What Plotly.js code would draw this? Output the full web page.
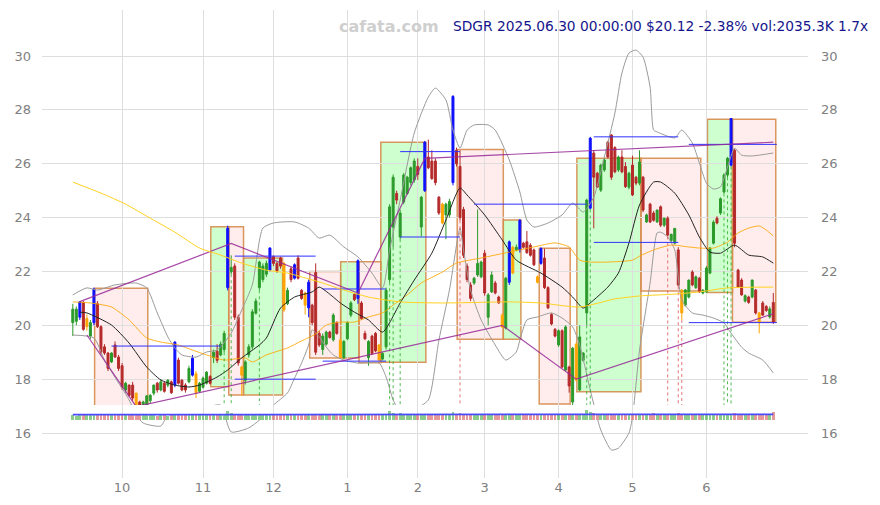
<!DOCTYPE html>
<html><head><meta charset="utf-8">
<script src="https://cdn.plot.ly/plotly-3.0.1.min.js"></script>
<style>html,body{margin:0;padding:0;background:#fff}#chart{width:880px;height:505px}</style>
</head><body><div id="chart"></div>
<script>
// ---- month ticks (trading-day index of first session of each month) ----
const monthTickIdx = [14, 37, 57, 78, 98, 117, 138, 159, 180];
const monthTickText = ['10', '11', '12', '1', '2', '3', '4', '5', '6'];
const priceTicks = [16, 18, 20, 22, 24, 26, 28, 30];

// ---- daily OHLC, SDGR 2024-09-11 .. 2025-06-30 ----
const openP = [
20.10,20.15,20.30,20.85,19.95,19.60,20.10,20.80,19.95,19.20,
18.97,18.64,19.27,18.82,18.50,17.60,17.78,17.78,17.48,17.15,
16.97,17.04,17.20,17.48,17.85,17.60,17.85,17.78,17.90,17.78,
18.71,17.96,17.78,17.90,18.15,18.20,17.55,17.70,17.85,18.10,
18.80,19.04,18.90,19.10,21.40,21.98,22.20,20.30,18.45,17.96,
18.90,19.20,20.45,21.40,21.70,21.90,22.05,22.55,22.30,22.50,
22.30,20.80,22.10,21.75,22.50,21.30,21.20,20.65,20.75,21.96,
19.70,19.10,19.30,19.75,19.46,20.10,19.45,18.80,19.50,20.38,
21.15,21.00,20.83,19.70,18.80,19.60,19.70,19.27,18.75,19.20,
21.70,23.65,24.90,23.28,24.58,24.90,25.30,25.40,25.90,23.65,
25.00,26.25,26.10,26.10,24.76,24.50,24.10,24.10,25.30,26.50,
25.90,24.30,22.20,21.50,21.57,21.87,21.80,22.68,20.30,21.24,
21.57,21.05,20.38,19.90,21.60,22.90,22.80,22.80,23.05,23.10,
22.97,22.80,21.80,22.30,22.50,21.40,20.40,19.85,19.27,19.80,
18.34,18.45,17.15,19.30,17.60,18.70,20.46,24.35,26.40,25.65,
25.02,25.77,26.80,27.07,26.60,25.77,26.25,25.90,25.13,25.95,
25.50,25.28,25.50,23.84,24.50,24.17,23.84,24.40,23.72,23.98,
23.15,23.05,22.80,21.30,20.75,21.05,21.98,21.40,21.75,21.20,
21.24,21.94,23.05,23.98,24.17,24.95,25.58,25.95,26.50,22.05,
21.68,20.90,21.05,21.05,21.31,20.46,20.83,20.70,20.31,20.85];
const highP = [
20.80,20.70,20.90,20.90,20.40,20.20,21.40,20.90,20.00,19.30,
19.00,19.00,19.40,18.90,18.60,17.90,17.80,17.90,17.50,17.20,
17.20,17.40,17.45,17.80,17.90,18.00,17.90,18.00,17.95,19.40,
18.80,18.00,17.85,18.50,18.90,18.30,17.90,18.10,18.30,18.15,
19.10,19.30,19.40,19.80,23.70,22.60,22.30,20.40,18.50,18.70,
19.30,20.60,21.00,22.40,22.30,22.40,22.90,22.60,22.35,22.55,
22.35,21.40,22.20,22.30,22.60,21.35,21.25,21.70,20.80,22.30,
19.80,19.70,19.80,19.80,20.45,20.15,19.50,19.45,20.15,20.90,
21.20,22.45,20.90,19.80,19.45,19.65,19.75,19.30,19.00,21.40,
24.50,25.60,25.00,24.30,25.65,25.55,25.90,26.20,26.20,24.80,
26.85,26.90,26.50,26.20,24.80,24.55,24.55,24.70,28.55,26.60,
26.50,24.40,22.30,21.60,21.80,24.30,22.40,22.80,21.20,22.00,
21.65,21.10,20.45,21.80,23.15,22.95,23.00,23.95,23.10,23.50,
23.05,22.85,21.85,22.90,22.85,21.45,20.45,19.90,19.85,19.85,
20.00,18.50,19.20,19.35,20.00,19.00,24.70,27.00,26.50,25.70,
26.00,26.20,26.85,27.10,26.65,26.30,26.50,26.06,25.70,26.30,
25.55,26.50,25.55,24.15,24.55,24.25,24.30,24.45,24.00,24.05,
23.40,23.60,22.90,21.35,21.35,21.70,22.05,21.85,21.80,21.35,
22.20,22.90,23.90,24.05,24.75,25.65,26.25,27.70,26.55,22.10,
21.75,21.15,21.10,21.70,21.35,20.50,20.90,20.75,20.70,21.20];
const lowP = [
19.60,20.00,20.20,19.80,19.80,19.50,20.00,19.90,18.90,18.90,
18.30,18.60,18.80,18.30,17.60,17.50,17.35,17.20,16.90,16.90,
16.60,16.95,17.10,17.40,17.50,17.55,17.50,17.70,17.45,17.70,
17.80,17.55,17.50,17.85,18.10,17.30,17.50,17.65,17.80,17.80,
18.60,18.60,18.85,19.00,21.30,21.90,20.20,18.50,17.40,17.80,
18.80,19.10,20.40,21.30,21.60,21.80,22.00,22.20,21.95,22.10,
20.50,20.75,21.60,21.70,21.70,20.95,20.40,20.30,20.00,18.90,
19.20,18.90,19.25,19.50,19.40,19.65,18.75,18.75,19.45,20.30,
20.90,20.80,20.20,19.45,18.50,18.90,19.00,18.65,18.70,19.10,
21.60,22.90,24.50,23.20,24.50,24.85,25.20,25.30,25.40,23.30,
24.95,25.80,25.40,25.20,24.10,23.75,23.20,24.00,25.20,25.90,
23.90,22.50,21.60,20.90,21.50,21.80,21.75,21.10,20.00,21.20,
21.15,20.80,19.90,19.85,21.50,21.90,22.75,22.70,22.85,22.65,
22.55,22.20,21.55,22.25,21.35,20.60,20.00,19.55,19.20,18.40,
18.30,17.50,16.90,17.90,17.55,18.65,20.00,24.30,23.60,25.10,
24.95,25.70,26.20,25.40,25.65,25.70,25.65,25.10,25.05,24.80,
25.20,25.20,24.20,23.80,23.80,23.85,23.80,23.65,23.65,23.30,
23.10,23.00,21.45,20.20,20.70,21.00,21.45,21.35,21.20,21.15,
21.20,21.90,23.00,23.75,24.10,24.90,25.50,25.90,22.90,21.40,
21.10,20.85,20.80,21.00,20.40,19.70,20.35,20.50,20.25,20.05];
const closeP = [
20.60,20.60,20.87,19.85,20.25,20.10,21.35,19.95,19.00,18.97,
18.40,18.97,18.82,18.40,17.70,17.85,17.40,17.30,16.97,16.97,
17.15,17.38,17.40,17.78,17.60,17.90,17.55,17.96,17.50,19.38,
17.85,17.60,17.60,18.40,18.78,17.50,17.85,18.04,18.26,17.85,
19.00,18.70,19.30,19.70,23.60,22.15,20.30,18.60,18.15,18.64,
19.20,20.50,20.90,22.35,22.20,22.30,22.87,22.30,22.00,22.20,
20.57,21.30,21.70,22.25,21.75,21.00,20.75,21.60,20.10,19.00,
19.27,19.60,19.75,19.55,20.38,19.70,18.80,19.40,20.10,20.83,
20.95,22.40,20.25,19.50,19.40,18.95,19.05,18.71,18.95,21.30,
24.40,25.50,24.65,24.17,25.58,25.50,25.85,26.10,25.60,24.76,
26.80,25.85,25.45,25.30,24.17,23.80,24.50,24.60,28.50,26.00,
24.00,22.60,21.70,21.00,21.75,22.30,22.35,21.20,21.13,21.87,
21.20,20.83,19.94,21.75,23.10,21.94,22.90,23.90,22.90,22.70,
22.60,22.25,21.60,22.85,21.40,20.65,20.05,19.60,19.80,18.45,
19.94,17.75,19.15,17.97,19.57,18.97,24.65,26.95,25.50,25.13,
25.95,26.14,26.25,25.50,25.70,26.25,25.70,25.15,25.65,24.84,
25.28,26.06,24.28,24.10,23.84,23.90,24.28,23.72,23.98,23.35,
23.38,23.60,21.50,20.46,21.31,21.68,21.50,21.80,21.24,21.30,
22.13,22.87,23.83,23.80,24.70,25.58,26.20,27.68,23.05,21.42,
21.13,21.10,20.85,21.68,20.46,20.10,20.38,20.55,20.61,20.12];
// volume, thousands of shares
const volK = [
1150,1080,1300,1250,1120,1180,1420,1260,1310,1190,1230,1100,1160,1210,1280,1090,1140,1170,1350,1120,
1260,1150,1090,1130,1080,1170,1110,1060,1120,1240,1180,1100,1090,1150,1210,1270,1130,1120,1160,1090,
1140,1180,1130,1360,2100,1650,1500,1420,1380,1290,1240,1310,1270,1450,1230,1200,1250,1190,1160,1210,
1320,1180,1150,1200,1170,1140,1230,1250,1190,1380,1220,1140,1130,1100,1160,1120,1210,1130,1150,1170,
1120,1240,1190,1160,1130,1170,1150,1200,1110,1380,2200,1700,1450,1600,1350,1280,1260,1240,1300,1220,
1420,1310,1280,1300,1250,1230,1190,1170,1900,1500,1650,1480,1360,1310,1220,1280,1200,1330,1250,1210,
1190,1230,1240,1300,1350,1260,1200,1320,1180,1200,1210,1220,1180,1230,1240,1260,1230,1210,1250,1280,
1300,1330,1420,1380,1340,1300,2300,2000,1600,1450,1380,1360,1300,1340,1390,1320,1300,1280,1260,1330,
1290,1270,1310,1240,1260,1700,1280,1250,1230,1420,1300,1290,1750,1500,1350,1280,1240,1220,1210,1200,
1230,1290,1310,1260,1300,1380,1420,1500,1750,1400,1330,1280,1240,1260,1300,1350,1250,1230,1220,2035];

// highlighted candles
const blueIdx = [2,6,29,34,44,56,63,67,81,100,108,124,127,133,147,187];
const orangeIdx = [4,18,35,48,60,66,76,87,105,122,125,132,143,173,195];
// signal days (dotted verticals)
const sigUpIdx = [43,45,53,90,91,93,146,147,185,186,187];
const sigDnIdx = [110,169,172,173];

// ---- indicator lines ----
const smaFastX = [2,4,11,16,21,25,29,33,36,41,44,48,53,55,59,63,68,70,74,76,80,84,88,93,97,102,106,110,112,117,122,126,133,139,142,145,147,152,155,158,161,165,167,171,175,178,181,184,188,192,196,199];
const smaFastY = [20.49,20.46,20.01,19.34,18.45,17.97,17.78,17.71,17.78,18.08,18.34,18.79,19.27,19.53,20.64,21.05,21.24,21.42,21.05,20.83,20.49,20.20,19.75,20.83,21.68,22.68,23.91,25.10,24.84,24.10,23.17,22.42,21.94,21.42,21.05,20.64,20.83,21.42,21.94,23.06,24.47,25.32,25.32,24.91,24.10,23.28,22.72,22.68,22.98,22.61,22.54,22.31];
const smaMidX = [0,5,11,16,21,25,30,34,38,43,49,51,55,61,65,69,72,76,80,84,88,91,95,99,105,109,116,124,131,137,141,144,147,152,159,161,165,170,175,178,182,186,189,192,195,197,199];
const smaMidY = [20.87,20.83,20.68,20.20,19.53,19.38,19.27,19.08,18.90,18.71,18.79,18.64,18.90,19.16,19.42,19.68,20.01,20.12,20.12,20.31,20.46,20.75,21.13,21.57,21.98,22.31,22.50,22.72,22.91,23.06,22.91,22.42,22.35,22.35,22.42,22.57,22.80,22.98,22.91,22.87,22.87,23.09,23.43,23.61,23.69,23.54,23.32];
const smaSlowX = [0,8,15,22,29,36,42,48,55,61,66,71,76,84,93,105,124,133,144,154,161,171,178,186,199];
const smaSlowY = [25.32,24.91,24.50,23.98,23.46,22.87,22.61,22.31,22.05,21.94,21.76,21.57,21.35,21.05,20.87,20.83,20.87,20.83,20.68,20.98,21.09,21.16,21.24,21.39,21.42];
const bbUpX = [0,4,7,12,18,21,24,27,29,31,35,38,41,45,48,51,54,57,63,67,70,73,77,81,85,88,90,93,97,101,103,106,108,110,112,114,118,120,124,127,129,131,135,139,142,145,148,151,154,156,158,160,162,164,165,166,171,173,176,178,180,182,184,186,188,190,193,199];
const bbUpY = [21.13,21.39,21.31,21.50,21.57,21.39,20.46,19.57,19.16,18.90,18.82,19.01,19.08,19.71,20.57,21.50,23.61,23.80,23.84,23.61,23.24,23.35,22.91,22.54,21.94,21.39,22.80,24.65,27.14,28.48,28.81,28.37,27.25,26.58,27.25,27.44,27.44,27.25,26.14,24.95,23.91,23.65,23.80,24.10,24.54,24.21,24.76,26.25,27.88,29.37,30.11,30.22,29.96,28.85,27.25,27.18,26.96,27.25,26.77,26.03,25.28,25.06,25.14,25.88,26.58,26.32,26.29,26.40];
const bbLoX = [0,6,9,13,16,18,20,25,27,30,38,42,43,45,50,53,57,61,63,65,67,68,70,72,74,77,81,87,89,91,93,95,97,101,104,107,110,111,113,116,120,123,126,127,129,132,136,139,142,144,147,150,153,155,158,159,161,164,166,167,169,171,173,176,179,182,185,187,190,192,196,199];
const bbLoY = [19.64,19.53,18.71,17.86,17.23,16.67,16.37,16.26,16.67,16.78,16.97,17.04,16.74,16.04,16.19,16.48,17.04,17.49,18.04,18.60,19.27,19.83,19.57,19.19,18.90,18.71,18.60,18.60,18.08,17.23,16.74,16.56,16.85,17.23,19.45,21.31,23.61,22.80,21.31,20.20,19.27,18.71,19.01,19.45,20.20,20.31,20.46,20.27,19.94,19.27,17.60,16.11,15.37,15.44,16.00,16.59,19.08,21.57,23.43,23.46,23.28,22.80,20.94,20.46,20.38,20.27,20.09,19.71,19.19,18.97,18.71,18.23];
const volMaX = [0, 50, 100, 150, 199];
const volMaY = [1300, 1310, 1330, 1340, 1350];

// ---- trend lines (pivot index, price) ----
const trendHiX = [2, 45, 81, 100, 199];
const trendHiY = [20.88, 23.04, 21.20, 26.20, 26.80];
const trendLoX = [4, 18, 122, 143, 199];
const trendLoY = [19.64, 16.98, 20.00, 18.00, 20.43];

// ---- support / resistance segments ----
const levelX0 = [11, 11, 46, 46, 71, 71, 93, 93, 114, 114, 148, 148, 175, 175];
const levelX1 = [42, 42, 69, 69, 89, 89, 110, 110, 146, 146, 172, 172, 200, 200];
const levelY  = [19.23, 16.93, 22.57, 18.00, 21.35, 18.67, 26.45, 23.28, 24.50, 16.92, 27.00, 23.08, 26.72, 20.10];

// ---- consolidation boxes ----
const boxX0 = [6.2, 39.2, 44.3, 48.5, 67.3, 76.1, 81.3, 87.5, 109.2, 122.3, 132.5, 143.2, 161.4, 180.3, 187.4];
const boxX1 = [21.3, 44.3, 48.5, 59.6, 76.1, 81.3, 87.5, 100.3, 122.3, 127.3, 141.3, 161.4, 178.4, 187.4, 199.7];
const boxTop = [21.38, 23.66, 23.66, 22.50, 22.00, 22.36, 22.36, 26.80, 26.53, 23.91, 22.86, 26.20, 26.20, 27.65, 27.65];
const boxBot = [16.75, 17.72, 17.41, 17.41, 18.79, 18.79, 18.61, 18.63, 19.48, 19.48, 17.08, 17.53, 21.27, 21.22, 20.11];
const boxKind = ['dn','up','dn','up','dn','up','dn','up','dn','up','dn','up','dn','up','dn'];

const titleText = 'SDGR 2025.06.30 00:00:00 $20.12 -2.38% vol:2035.3K 1.7x';

// ================= build =================
const idx = openP.map((_, i) => i);
const special = new Set(blueIdx.concat(orangeIdx));
function pick(list) {
  return { x: list, open: list.map(i => openP[i]), high: list.map(i => highP[i]),
           low: list.map(i => lowP[i]), close: list.map(i => closeP[i]) };
}
const normalIdx = idx.filter(i => !special.has(i));
const GREEN = '#2b9a2b', RED = '#b52a2a';

function candle(list, upC, dnC) {
  const d = pick(list);
  return Object.assign({
    type: 'candlestick', xaxis: 'x', yaxis: 'y', hoverinfo: 'skip', whiskerwidth: 0,
    increasing: { line: { color: upC, width: 1 }, fillcolor: upC },
    decreasing: { line: { color: dnC, width: 1 }, fillcolor: dnC }
  }, d);
}
function line(x, y, color, width, extra) {
  return Object.assign({ type: 'scatter', mode: 'lines', x: x, y: y, hoverinfo: 'skip',
    line: { color: color, width: width, shape: 'spline', smoothing: 0.6 } }, extra || {});
}
function segs(list, fromArr, toVal) {
  const x = [], y = [];
  list.forEach(i => { x.push(i, i, null); y.push(fromArr[i], toVal, null); });
  return { x, y };
}
const STRIP_TOP = 16.66;
const up = segs(sigUpIdx, lowP, STRIP_TOP);
const dn = segs(sigDnIdx, lowP, STRIP_TOP);
const lvX = [], lvY = [];
levelY.forEach((v, k) => { lvX.push(levelX0[k], levelX1[k], null); lvY.push(v, v, null); });

const traces = [
  { type: 'bar', x: idx, y: volK, yaxis: 'y3', width: 0.8, hoverinfo: 'skip',
    marker: { line: { width: 0 },
              color: idx.map(i => closeP[i] >= openP[i] ? 'rgba(60,170,60,0.6)' : 'rgba(210,70,70,0.55)') } },
  line(volMaX, volMaY, '#3a3aff', 1.8, { yaxis: 'y3', line: { color: '#4a4aff', width: 1.8 } }),
  line(bbUpX, bbUpY, '#9a9a9a', 1),
  line(bbLoX, bbLoY, '#9a9a9a', 1),
  line(smaSlowX, smaSlowY, '#ffd21f', 1, { yaxis: 'y2' }),
  line(smaMidX, smaMidY, 'rgba(255,165,0,0.85)', 1),
  line(smaFastX, smaFastY, '#222', 1),
  { type: 'scatter', mode: 'lines', x: up.x, y: up.y, hoverinfo: 'skip', line: { color: 'rgba(40,170,40,0.8)', width: 1, dash: 'dot' } },
  { type: 'scatter', mode: 'lines', x: dn.x, y: dn.y, hoverinfo: 'skip', line: { color: 'rgba(220,80,80,0.8)', width: 1, dash: 'dot' } },
  candle(normalIdx, GREEN, RED),
  candle(orangeIdx, '#ffa500', '#ffa500'),
  candle(blueIdx, '#1010ff', '#1010ff'),
  { type: 'scatter', mode: 'lines', x: lvX, y: lvY, hoverinfo: 'skip', line: { color: '#3030ff', width: 1 } },
  { type: 'scatter', mode: 'lines', x: trendHiX, y: trendHiY, hoverinfo: 'skip', line: { color: 'rgba(150,40,150,0.85)', width: 1.2 } },
  { type: 'scatter', mode: 'lines', x: trendLoX, y: trendLoY, hoverinfo: 'skip', line: { color: 'rgba(150,40,150,0.85)', width: 1.2 } }
];

const shapes = boxX0.map((x0, k) => ({
  type: 'rect', xref: 'x', yref: 'y', layer: 'below',
  x0: x0, x1: boxX1[k], y0: boxBot[k], y1: boxTop[k],
  fillcolor: boxKind[k] === 'up' ? 'rgba(60,255,60,0.25)' : 'rgba(255,110,110,0.12)',
  line: { color: 'rgba(214,140,76,0.9)', width: 1.5 }
}));

const axisFont = { family: 'DejaVu Sans', size: 13, color: '#808080' };
const layout = {
  width: 880, height: 505,
  margin: { l: 42, r: 72, t: 10, b: 27, pad: 0 },
  paper_bgcolor: '#ffffff', plot_bgcolor: '#ffffff',
  showlegend: false,
  bargap: 0,
  boxgap: 0.2,
  font: { family: 'DejaVu Sans', size: 13, color: '#808080' },
  xaxis: { range: [-8.75, 208.86], tickmode: 'array', tickvals: monthTickIdx, ticktext: monthTickText,
           showgrid: true, gridcolor: '#dedede', zeroline: false, showline: false, ticks: '',
           tickfont: axisFont, rangeslider: { visible: false }, fixedrange: true },
  yaxis: { range: [14.33, 31.71], tickmode: 'array', tickvals: priceTicks, showgrid: true, gridcolor: '#dedede',
           zeroline: false, showline: false, ticks: '', tickfont: axisFont, ticklabelstandoff: 10 },
  yaxis2: { overlaying: 'y', side: 'right', matches: 'y', tickmode: 'array', tickvals: priceTicks,
            showgrid: false, zeroline: false, showline: false, ticks: '', tickfont: axisFont, ticklabelstandoff: 12 },
  yaxis3: { domain: [0.1239, 0.1560], range: [0, 3600], visible: false, anchor: 'x', fixedrange: true },
  shapes: shapes,
  annotations: [
    { xref: 'paper', yref: 'paper', x: 0.453, y: 0.9658, xanchor: 'center', yanchor: 'middle', showarrow: false,
      text: '<b>cafata.com</b>', font: { family: 'DejaVu Sans', size: 16, color: '#cfcfcf' } },
    { xref: 'paper', yref: 'paper', x: 1.0809, y: 0.9658, xanchor: 'right', yanchor: 'middle', showarrow: false,
      text: titleText, font: { family: 'DejaVu Sans', size: 13.75, color: '#14148c' } }
  ]
};

Plotly.newPlot('chart', traces, layout, { staticPlot: true, displayModeBar: false });
</script>
</body></html>
